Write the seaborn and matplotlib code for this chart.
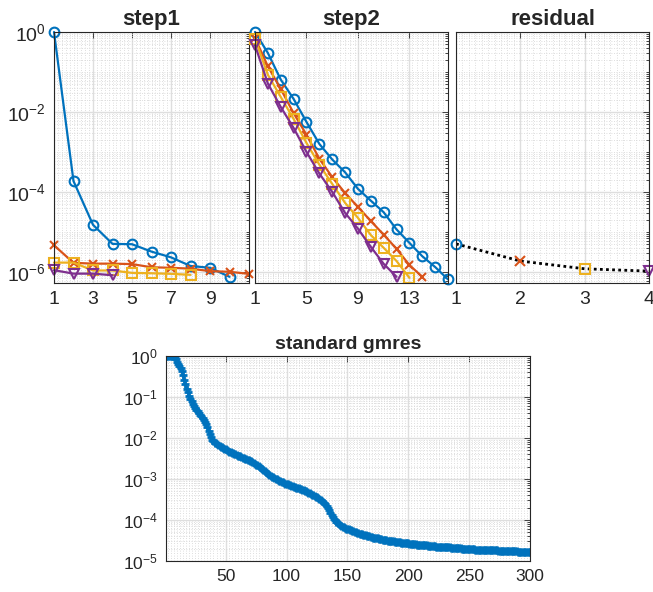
import matplotlib
matplotlib.use("Agg")
import matplotlib.pyplot as plt
import matplotlib.ticker as mticker
import seaborn as sns
import numpy as np

# MATLAB default colour order
BLUE = "#0072BD"
ORANGE = "#D95319"
YELLOW = "#EDB120"
PURPLE = "#7E2F8E"
AXCOL = "#262626"

# ---- step1 residual histories
step1_blue = [1.0, 1.86e-4, 1.5e-5, 5.0e-6, 4.9e-6, 3.2e-6, 2.3e-6, 1.4e-6, 1.26e-6, 7.5e-7]
step1_orange = [4.6e-6, 1.68e-6, 1.6e-6, 1.6e-6, 1.56e-6, 1.3e-6, 1.26e-6, 1.2e-6, 1.04e-6, 1.0e-6, 8.9e-7]
step1_yellow = [1.7e-6, 1.7e-6, 1.08e-6, 1.08e-6, 9.4e-7, 9.2e-7, 8.9e-7, 8.4e-7]
step1_purple = [1.1e-6, 9.0e-7, 9.0e-7, 8.2e-7]

# ---- step2 residual histories, as log10 exponents
step2_log_blue = [0.0, -0.525, -1.19, -1.675, -2.25, -2.8, -3.19, -3.51, -3.925, -4.22,
                  -4.51, -4.94, -5.275, -5.61, -5.88, -6.19]
step2_log_orange = [-0.15, -0.86, -1.425, -2.03, -2.57, -3.17, -3.63, -4.03, -4.375, -4.73,
                    -5.07, -5.425, -5.83, -6.125]
step2_log_yellow = [-0.17, -1.07, -1.625, -2.175, -2.775, -3.32, -3.8, -4.275, -4.65, -5.08,
                    -5.4, -5.73, -6.15]
step2_log_purple = [-0.33, -1.29, -1.875, -2.4, -3.0, -3.54, -4.0, -4.525, -4.92, -5.375,
                    -5.8, -6.125]

# ---- final residual per restart
residual_x = [1, 2, 3, 4]
residual_vals = [5.0e-6, 1.86e-6, 1.19e-6, 1.04e-6]

# ---- standard gmres, log10 of relative residual, iterations 1..300
gmres_log = [
    0.00, 0.00, 0.00, 0.00, 0.00, 0.00, 0.00, -0.03, -0.08, -0.14,
    -0.20, -0.25, -0.30, -0.37, -0.46, -0.58, -0.68, -0.80, -0.89, -0.97,
    -1.04, -1.10, -1.16, -1.22, -1.26, -1.31, -1.35, -1.39, -1.43, -1.47,
    -1.52, -1.56, -1.61, -1.67, -1.73, -1.82, -1.91, -1.98, -2.04, -2.08,
    -2.11, -2.13, -2.15, -2.17, -2.19, -2.21, -2.22, -2.24, -2.26, -2.28,
    -2.30, -2.31, -2.33, -2.34, -2.36, -2.37, -2.39, -2.40, -2.42, -2.43,
    -2.44, -2.45, -2.47, -2.48, -2.49, -2.50, -2.51, -2.53, -2.54, -2.55,
    -2.57, -2.59, -2.61, -2.63, -2.65, -2.67, -2.69, -2.71, -2.73, -2.76,
    -2.78, -2.80, -2.83, -2.85, -2.87, -2.90, -2.92, -2.94, -2.96, -2.98,
    -3.00, -3.01, -3.03, -3.04, -3.06, -3.07, -3.08, -3.10, -3.11, -3.12,
    -3.13, -3.14, -3.15, -3.16, -3.18, -3.19, -3.20, -3.21, -3.22, -3.23,
    -3.24, -3.25, -3.26, -3.27, -3.29, -3.30, -3.31, -3.33, -3.34, -3.36,
    -3.38, -3.39, -3.41, -3.43, -3.45, -3.47, -3.49, -3.51, -3.53, -3.55,
    -3.58, -3.62, -3.66, -3.71, -3.76, -3.82, -3.88, -3.93, -3.97, -4.01,
    -4.05, -4.08, -4.10, -4.12, -4.14, -4.16, -4.18, -4.19, -4.21, -4.22,
    -4.23, -4.24, -4.25, -4.27, -4.28, -4.29, -4.30, -4.31, -4.32, -4.33,
    -4.34, -4.35, -4.36, -4.37, -4.37, -4.38, -4.39, -4.40, -4.41, -4.42,
    -4.43, -4.43, -4.44, -4.45, -4.45, -4.46, -4.47, -4.47, -4.48, -4.48,
    -4.49, -4.49, -4.50, -4.50, -4.51, -4.51, -4.52, -4.52, -4.53, -4.53,
    -4.54, -4.54, -4.54, -4.55, -4.55, -4.56, -4.56, -4.56, -4.57, -4.57,
    -4.58, -4.58, -4.58, -4.59, -4.59, -4.59, -4.60, -4.60, -4.60, -4.61,
    -4.61, -4.61, -4.62, -4.62, -4.62, -4.63, -4.63, -4.63, -4.64, -4.64,
    -4.64, -4.64, -4.65, -4.65, -4.65, -4.65, -4.66, -4.66, -4.66, -4.66,
    -4.67, -4.67, -4.67, -4.67, -4.68, -4.68, -4.68, -4.68, -4.69, -4.69,
    -4.69, -4.69, -4.69, -4.70, -4.70, -4.70, -4.70, -4.70, -4.71, -4.71,
    -4.71, -4.71, -4.71, -4.71, -4.72, -4.72, -4.72, -4.72, -4.72, -4.72,
    -4.73, -4.73, -4.73, -4.73, -4.73, -4.73, -4.74, -4.74, -4.74, -4.74,
    -4.74, -4.74, -4.74, -4.75, -4.75, -4.75, -4.75, -4.75, -4.75, -4.75,
    -4.75, -4.76, -4.76, -4.76, -4.76, -4.76, -4.76, -4.76, -4.76, -4.77,
    -4.77, -4.77, -4.77, -4.77, -4.77, -4.77, -4.77, -4.77, -4.78, -4.78,
]

sns.set_theme(style="white")
plt.rcParams["font.family"] = ["Liberation Sans", "DejaVu Sans"]
plt.rcParams["mathtext.fontset"] = "custom"
plt.rcParams["mathtext.rm"] = "Liberation Sans"
plt.rcParams["mathtext.it"] = "Liberation Sans:italic"
plt.rcParams["mathtext.bf"] = "Liberation Sans:bold"

fig = plt.figure(figsize=(6.53, 5.92), dpi=100)
W, H = 653.0, 592.0


def make_ax(left, right, top, bottom):
    return fig.add_axes([left / W, 1 - bottom / H, (right - left) / W, (bottom - top) / H])


def matlab_style(ax, xminor, fsize):
    ax.set_yscale("log")
    ax.yaxis.set_minor_locator(mticker.LogLocator(base=10, subs=np.arange(1, 10), numticks=50))
    ax.yaxis.set_minor_formatter(mticker.NullFormatter())
    ax.xaxis.set_minor_locator(mticker.MultipleLocator(xminor))
    ax.grid(which="major", color="#dedede", linewidth=1.0, linestyle="-")
    ax.grid(which="minor", color="#d4d4d4", linewidth=0.6, linestyle=(0, (1, 2)))
    ax.set_axisbelow(True)
    for s in ax.spines.values():
        s.set_color(AXCOL)
        s.set_linewidth(0.8)
        s.set_visible(True)
    ax.tick_params(which="both", direction="in", top=True, right=True,
                   colors=AXCOL, labelsize=fsize, width=0.6)
    ax.tick_params(which="major", length=4, pad=6)
    ax.tick_params(which="minor", length=2.2)
    ax.tick_params(axis="x", which="minor", length=0)
    ax.set_xlabel("")
    ax.set_ylabel("")


def series(ax, xs, ys, color, marker, ms=7, mew=1.5):
    sns.lineplot(x=np.array(xs), y=np.array(ys), ax=ax, color=color, linewidth=1.6,
                 marker=marker, markersize=ms, markerfacecolor="none",
                 markeredgecolor=color, markeredgewidth=mew, clip_on=False)


ylo, yhi = 10 ** -6.28, 1.0

# ---- step1
ax1 = make_ax(54, 249, 32, 283)
series(ax1, range(1, len(step1_blue) + 1), step1_blue, BLUE, "o")
series(ax1, range(1, len(step1_orange) + 1), step1_orange, ORANGE, "x", ms=6)
series(ax1, range(1, len(step1_yellow) + 1), step1_yellow, YELLOW, "s", ms=6.5)
series(ax1, range(1, len(step1_purple) + 1), step1_purple, PURPLE, "v", ms=7)
matlab_style(ax1, 0.2, 14)
ax1.set_xlim(1, 11)
ax1.set_ylim(ylo, yhi)
ax1.set_xticks([1, 3, 5, 7, 9])
ax1.set_yticks([1e-6, 1e-4, 1e-2, 1e0])
ax1.set_title("step1", fontsize=16, fontweight="bold", pad=5)

# ---- step2
ax2 = make_ax(255, 448, 32, 283)
series(ax2, range(1, len(step2_log_blue) + 1), 10 ** np.array(step2_log_blue), BLUE, "o")
series(ax2, range(1, len(step2_log_orange) + 1), 10 ** np.array(step2_log_orange), ORANGE, "x", ms=6)
series(ax2, range(1, len(step2_log_yellow) + 1), 10 ** np.array(step2_log_yellow), YELLOW, "s", ms=6.5)
series(ax2, range(1, len(step2_log_purple) + 1), 10 ** np.array(step2_log_purple), PURPLE, "v", ms=7)
matlab_style(ax2, 0.4, 14)
ax2.set_xlim(1, 16)
ax2.set_ylim(ylo, yhi)
ax2.set_xticks([1, 5, 9, 13])
ax2.set_yticks([1e-6, 1e-4, 1e-2, 1e0])
ax2.tick_params(labelleft=False)
ax2.set_title("step2", fontsize=16, fontweight="bold", pad=5)

# ---- residual
ax3 = make_ax(456, 649, 32, 283)
sns.lineplot(x=np.array(residual_x), y=np.array(residual_vals), ax=ax3, color="black",
             linewidth=2.0, linestyle=(0, (1, 1.2)))
res_markers = [("o", BLUE), ("x", ORANGE), ("s", YELLOW), ("v", PURPLE)]
for xv, yv, (mk, col) in zip(residual_x, residual_vals, res_markers):
    ax3.plot([xv], [yv], marker=mk, color=col, markersize=7 if mk in "ov" else 6.5,
             markerfacecolor="none", markeredgewidth=1.5, linestyle="none", clip_on=False)
matlab_style(ax3, 0.1, 14)
ax3.set_xlim(1, 4)
ax3.set_ylim(ylo, yhi)
ax3.set_xticks([1, 2, 3, 4])
ax3.set_yticks([1e-6, 1e-4, 1e-2, 1e0])
ax3.tick_params(labelleft=False)
ax3.set_title("residual", fontsize=16, fontweight="bold", pad=5)

# ---- standard gmres
ax4 = make_ax(166, 530, 356, 561)
iters = np.arange(1, len(gmres_log) + 1)
sns.lineplot(x=iters, y=10 ** np.array(gmres_log), ax=ax4, color=BLUE, linewidth=1.8,
             marker="+", markersize=6, markeredgecolor=BLUE, markeredgewidth=2.0)
matlab_style(ax4, 2.5, 12.5)
ax4.set_xlim(1, 300)
ax4.set_ylim(1e-5, 1.0)
ax4.set_xticks([50, 100, 150, 200, 250, 300])
ax4.set_yticks([1e-5, 1e-4, 1e-3, 1e-2, 1e-1, 1e0])
ax4.set_title("standard gmres", fontsize=14, fontweight="bold", pad=5)

fig.savefig("out.png", dpi=100)
